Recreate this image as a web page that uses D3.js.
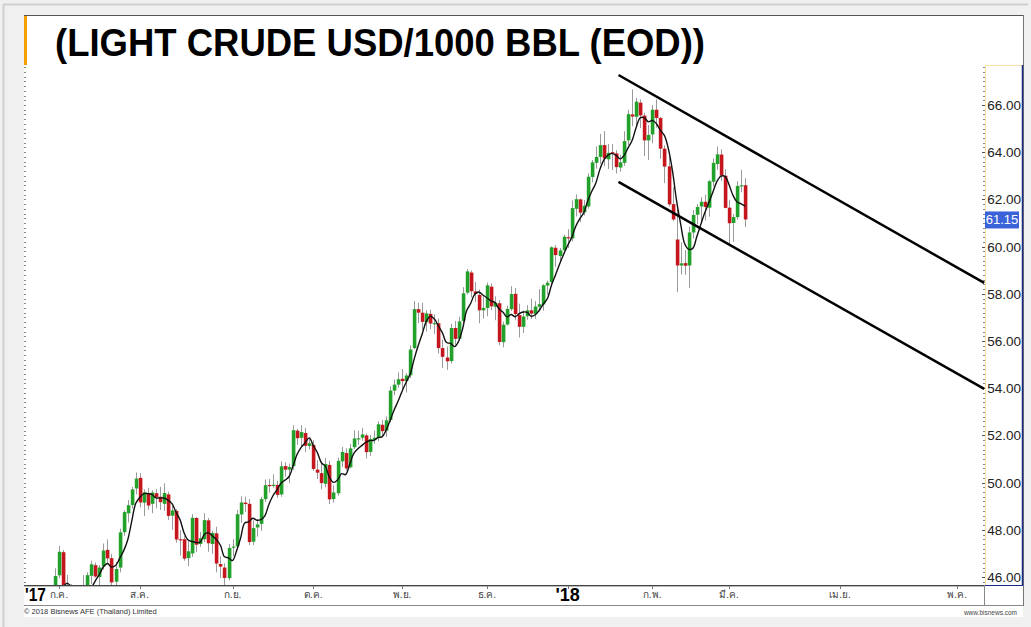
<!DOCTYPE html>
<html lang="th">
<head>
<meta charset="utf-8">
<title>LIGHT CRUDE USD/1000 BBL (EOD)</title>
<script src="https://cdn.jsdelivr.net/npm/d3@7"></script>
<style>
body{margin:0;background:#f0f0f0;}
svg{display:block;font-family:"Liberation Sans",Arial,sans-serif;}
</style>
</head>
<body>
<script>

// daily bars, Jun 26 2017 .. Mar 7 2018
var dates = [
 "2017-06-26","2017-06-27","2017-06-28","2017-06-29","2017-06-30",
 "2017-07-03","2017-07-05","2017-07-06","2017-07-07","2017-07-10","2017-07-11","2017-07-12","2017-07-13","2017-07-14","2017-07-17",
 "2017-07-18","2017-07-19","2017-07-20","2017-07-21","2017-07-24","2017-07-25","2017-07-26","2017-07-27","2017-07-28","2017-07-31",
 "2017-08-01","2017-08-02","2017-08-03","2017-08-04","2017-08-07","2017-08-08","2017-08-09","2017-08-10","2017-08-11","2017-08-14",
 "2017-08-15","2017-08-16","2017-08-17","2017-08-18","2017-08-21","2017-08-22","2017-08-23","2017-08-24","2017-08-25","2017-08-28",
 "2017-08-29","2017-08-30","2017-08-31",
 "2017-09-01","2017-09-05","2017-09-06","2017-09-07","2017-09-08","2017-09-11","2017-09-12","2017-09-13","2017-09-14","2017-09-15",
 "2017-09-18","2017-09-19","2017-09-20","2017-09-21","2017-09-22","2017-09-25","2017-09-26","2017-09-27","2017-09-28","2017-09-29",
 "2017-10-02","2017-10-03","2017-10-04","2017-10-05","2017-10-06","2017-10-09","2017-10-10","2017-10-11","2017-10-12","2017-10-13",
 "2017-10-16","2017-10-17","2017-10-18","2017-10-19","2017-10-20","2017-10-23","2017-10-24","2017-10-25","2017-10-26","2017-10-27",
 "2017-10-30","2017-10-31",
 "2017-11-01","2017-11-02","2017-11-03","2017-11-06","2017-11-07","2017-11-08","2017-11-09","2017-11-10","2017-11-13","2017-11-14",
 "2017-11-15","2017-11-16","2017-11-17","2017-11-20","2017-11-21","2017-11-22","2017-11-24","2017-11-27","2017-11-28","2017-11-29",
 "2017-11-30",
 "2017-12-01","2017-12-04","2017-12-05","2017-12-06","2017-12-07","2017-12-08","2017-12-11","2017-12-12","2017-12-13","2017-12-14",
 "2017-12-15","2017-12-18","2017-12-19","2017-12-20","2017-12-21","2017-12-22","2017-12-26","2017-12-27","2017-12-28","2017-12-29",
 "2018-01-02","2018-01-03","2018-01-04","2018-01-05","2018-01-08","2018-01-09","2018-01-10","2018-01-11","2018-01-12","2018-01-16",
 "2018-01-17","2018-01-18","2018-01-19","2018-01-22","2018-01-23","2018-01-24","2018-01-25","2018-01-26","2018-01-29","2018-01-30",
 "2018-01-31",
 "2018-02-01","2018-02-02","2018-02-05","2018-02-06","2018-02-07","2018-02-08","2018-02-09","2018-02-12","2018-02-13","2018-02-14",
 "2018-02-15","2018-02-16","2018-02-20","2018-02-21","2018-02-22","2018-02-23","2018-02-26","2018-02-27","2018-02-28",
 "2018-03-01","2018-03-02","2018-03-05","2018-03-06","2018-03-07"
];

var opens = [
 43.11,43.40,44.30,44.70,44.90,
 46.07,47.05,45.15,45.50,44.25,44.45,45.10,45.55,46.05,46.50,46.00,46.45,47.15,46.80,45.80,46.40,47.90,48.70,49.05,49.75,
 50.20,49.15,49.55,49.10,49.55,49.40,49.10,49.50,48.60,48.80,47.60,47.60,46.80,47.00,48.50,47.40,47.60,48.40,47.40,47.85,46.55,46.40,45.95,
 47.25,47.30,48.65,49.15,49.10,47.50,48.10,48.25,49.30,49.90,49.90,49.90,49.50,50.70,50.55,50.70,52.20,51.90,52.10,51.55,
 51.60,50.55,50.40,49.95,50.75,49.30,49.55,50.90,51.25,50.65,51.50,51.85,51.90,52.00,51.30,51.80,51.90,52.45,52.20,52.65,53.90,54.15,
 54.40,54.30,54.55,55.70,57.35,57.20,56.80,57.15,56.75,56.75,55.70,55.30,55.15,56.55,56.10,56.85,58.05,58.90,58.10,57.95,57.30,
 57.40,58.30,57.45,57.60,55.95,56.70,57.35,58.00,57.10,56.60,57.05,57.30,57.15,57.45,57.55,58.35,58.50,59.95,59.60,59.85,
 60.40,60.35,61.60,62.00,61.45,61.70,62.95,63.55,63.80,64.30,63.70,64.00,63.95,63.35,63.55,64.50,65.60,65.50,66.10,65.55,64.50,
 64.75,65.80,65.45,64.15,63.40,61.80,60.30,59.20,59.30,59.20,60.60,61.35,61.70,61.90,61.65,62.75,63.50,63.90,63.00,
 61.65,61.00,61.25,62.55,62.60
];

var highs = [
 43.78,44.40,44.82,45.37,46.37,
 47.32,47.15,46.09,45.70,44.89,45.40,46.08,46.20,46.69,46.61,46.50,47.42,47.59,46.98,46.64,48.05,48.83,49.26,49.81,50.43,
 50.40,49.71,49.78,49.67,49.72,49.82,49.97,49.61,49.02,48.88,47.98,47.73,47.52,48.66,48.55,47.91,48.71,48.50,47.96,48.13,46.87,46.58,47.40,
 47.60,48.84,49.42,49.40,49.30,48.40,48.45,49.40,50.13,50.15,50.35,50.08,50.90,50.86,50.80,52.43,52.27,52.43,52.32,51.91,
 51.80,50.95,50.82,51.05,50.92,49.88,51.06,51.51,51.45,51.64,52.22,52.20,52.32,52.08,52.02,52.20,52.60,52.65,52.80,54.08,54.37,54.67,
 54.82,54.64,55.82,57.69,57.63,57.62,57.30,57.33,57.13,56.95,56.06,55.77,56.72,56.85,57.03,58.28,59.05,58.99,58.50,58.18,57.89,
 58.48,58.44,57.89,57.73,56.82,57.50,58.32,58.25,57.58,57.29,57.52,57.79,57.69,58.20,58.41,58.56,60.01,60.06,59.94,60.51,
 60.74,61.95,62.21,62.04,61.97,63.10,63.67,64.25,64.77,64.89,64.35,64.34,64.08,63.89,64.89,65.80,66.66,66.30,66.24,65.67,65.15,
 66.00,66.24,65.49,64.29,63.80,62.52,61.59,60.18,59.85,60.84,61.55,61.80,62.10,62.20,62.82,63.73,64.24,64.12,63.28,
 61.98,61.38,62.77,63.25,62.90
];

var lows = [
 42.98,43.22,43.95,44.48,44.84,
 45.95,45.05,44.95,44.00,44.20,44.25,45.05,45.10,45.70,45.97,45.40,46.31,46.60,45.40,45.55,46.20,47.75,48.31,48.90,49.50,
 48.95,48.59,48.85,48.70,48.91,48.84,48.80,48.41,48.00,47.45,46.91,46.69,46.46,46.85,47.05,47.28,47.48,47.07,46.98,46.20,45.96,45.58,45.85,
 46.88,47.20,48.30,48.75,47.35,47.35,47.71,47.95,49.18,49.57,49.78,49.36,49.40,50.25,49.98,50.55,51.60,51.50,51.29,51.40,
 50.50,50.15,49.72,49.80,49.09,49.15,49.45,50.66,50.51,50.60,51.42,51.60,51.77,51.02,51.12,51.65,51.76,51.97,51.94,52.55,53.70,54.02,
 53.88,53.82,54.43,55.65,56.76,56.46,56.40,56.50,56.30,55.47,54.85,54.78,55.05,55.84,56.03,56.76,57.97,57.85,57.65,56.75,56.95,
 57.05,57.31,56.88,55.82,55.73,56.65,57.28,56.88,56.15,56.34,56.90,56.93,56.94,57.25,57.29,57.96,58.38,59.14,59.36,59.79,
 59.94,60.22,61.28,61.04,61.32,61.61,62.73,63.30,63.51,63.41,63.29,63.25,63.10,63.17,63.42,64.30,65.10,65.15,65.02,63.84,63.67,
 64.38,65.04,63.72,62.69,61.70,61.09,58.07,58.82,58.80,58.25,60.35,60.95,61.00,61.10,61.27,62.55,63.26,62.79,61.62,
 60.06,60.20,61.15,62.30,60.83
];

var closes = [
 43.38,44.24,44.74,44.93,46.04,
 47.07,45.13,45.52,44.23,44.40,45.04,45.49,46.08,46.54,46.02,46.40,47.12,46.79,45.77,46.34,47.89,48.75,49.04,49.71,50.17,
 49.16,49.59,49.03,49.58,49.39,49.17,49.56,48.59,48.82,47.59,47.55,46.78,47.09,48.51,47.37,47.64,48.41,47.43,47.87,46.57,46.44,45.96,47.23,
 47.29,48.66,49.16,49.09,47.48,48.07,48.23,49.30,49.89,49.89,49.91,49.48,50.69,50.55,50.66,52.22,51.88,52.14,51.56,51.67,
 50.58,50.42,49.98,50.79,49.29,49.58,50.92,51.30,50.60,51.45,51.87,51.88,52.04,51.29,51.84,51.90,52.47,52.18,52.64,53.90,54.15,54.38,
 54.30,54.54,55.64,57.35,57.20,56.81,57.17,56.74,56.76,55.70,55.33,55.14,56.55,56.09,56.83,58.02,58.95,58.11,57.99,57.30,57.40,
 58.36,57.47,57.62,55.96,56.69,57.36,57.99,57.14,56.60,57.04,57.30,57.16,57.46,57.56,58.36,58.47,59.97,59.64,59.84,60.42,
 60.37,61.63,62.01,61.44,61.73,62.96,63.57,63.80,64.30,63.73,63.97,63.95,63.37,63.57,64.47,65.61,65.51,66.14,65.56,64.50,64.73,
 65.80,65.45,64.15,63.39,61.79,61.15,59.20,59.29,59.19,60.60,61.34,61.68,61.90,61.68,62.77,63.55,63.91,63.01,61.64,
 60.99,61.25,62.57,62.60,61.15
];

// x axis: months (first trading day), future months placed where the vendor puts them
var monthKeys   = ["2017-07","2017-08","2017-09","2017-10","2017-11","2017-12","2018-01","2018-02","2018-03"];
var monthLabels = ["ก.ค.","ส.ค.","ก.ย.","ต.ค.","พ.ย.","ธ.ค.","'18","ก.พ.","มี.ค."];
var futureLabels = ["เม.ย.","พ.ค."];
var futureSlots  = [193.5, 222.5];
var yearStartLabel = "'17";

var yTicks = [46,48,50,52,54,56,58,60,62,64,66];
var lastPrice = 61.15;

// hand drawn channel (slot, price)
var channelUpper = [[138.6, 67.27],[229.2, 58.46]];
var channelLower = [[138.6, 62.74],[229.2, 53.97]];

var maPeriod = 5;

var w = 1031, h = 627;
var plotL = 25, plotR = 985, plotT = 65, plotB = 585;
var firstSlot = dates.indexOf("2017-07-03");

var bars = dates.map(function(d, k){
  return {i: k - firstSlot, o: opens[k], h: highs[k], l: lows[k], c: closes[k]};
});

var ma = [];
for (var k = maPeriod - 1; k < closes.length; k++) {
  ma.push({i: k - firstSlot, v: d3.mean(closes.slice(k - maPeriod + 1, k + 1))});
}

var x = d3.scaleLinear().domain([-8.42, 229.4]).range([plotL, plotR]);
var y = d3.scaleLinear().domain([46, 66]).range([577, 105]);

var svg = d3.select("body").append("svg").attr("width", w).attr("height", h);

// outer frame
svg.append("rect").attr("width", w).attr("height", h).attr("fill", "#f0f0f0");
svg.append("line").attr("x1", 3).attr("x2", 1028).attr("y1", 4.5).attr("y2", 4.5).attr("stroke", "#cfcfcf").attr("stroke-width", 2);
svg.append("line").attr("x1", 3.5).attr("x2", 3.5).attr("y1", 4).attr("y2", 627).attr("stroke", "#cfcfcf").attr("stroke-width", 2);
svg.append("rect").attr("x", 24).attr("y", 15).attr("width", 999).attr("height", 602).attr("fill", "#fff");
svg.append("line").attr("x1", 24).attr("x2", 1023.5).attr("y1", 15.5).attr("y2", 15.5).attr("stroke", "#555");
svg.append("line").attr("x1", 1023.5).attr("x2", 1023.5).attr("y1", 15).attr("y2", 606).attr("stroke", "#777");
svg.append("rect").attr("x", 24).attr("y", 16).attr("width", 3).attr("height", 49).attr("fill", "#f5a000");

// title
svg.append("text").attr("x", 55).attr("y", 56)
  .attr("font-size", 39).attr("font-weight", "bold").attr("fill", "#000")
  .attr("textLength", 650).attr("lengthAdjust", "spacingAndGlyphs")
  .text("(LIGHT CRUDE USD/1000 BBL (EOD))");

// price axis box
svg.append("rect").attr("x", 985).attr("y", 65).attr("width", 38).attr("height", 520).attr("fill", "#fff");
svg.append("line").attr("x1", 985.5).attr("x2", 985.5).attr("y1", 65).attr("y2", 585).attr("stroke", "#fbe3a8");
svg.append("line").attr("x1", 985).attr("x2", 1023).attr("y1", 65.5).attr("y2", 65.5).attr("stroke", "#fbe3a8");
svg.append("line").attr("x1", 1022.5).attr("x2", 1022.5).attr("y1", 65).attr("y2", 586).attr("stroke", "#1a2a80").attr("stroke-width", 1.5);
svg.append("line").attr("x1", 985).attr("x2", 1023).attr("y1", 585.5).attr("y2", 585.5).attr("stroke", "#1a2a80");

// minor ticks, both sides
var minor = d3.range(45.8, 67.7, 0.2);
svg.append("g").selectAll("line").data(minor).join("line")
  .attr("x1", 983).attr("x2", 985).attr("y1", function(d){ return Math.round(y(d)) + 0.5; }).attr("y2", function(d){ return Math.round(y(d)) + 0.5; })
  .attr("stroke", "#888");
svg.append("g").selectAll("line").data(minor).join("line")
  .attr("x1", 24).attr("x2", 26).attr("y1", function(d){ return Math.round(y(d)) + 0.5; }).attr("y2", function(d){ return Math.round(y(d)) + 0.5; })
  .attr("stroke", "#888");
svg.append("g").selectAll("line").data(yTicks).join("line")
  .attr("x1", 982).attr("x2", 985).attr("y1", function(d){ return Math.round(y(d)) + 0.5; }).attr("y2", function(d){ return Math.round(y(d)) + 0.5; })
  .attr("stroke", "#555");

svg.append("g").selectAll("text").data(yTicks).join("text")
  .attr("x", 1021).attr("y", function(d){ return y(d) + 5; })
  .attr("text-anchor", "end").attr("font-size", 13.5).attr("fill", "#222")
  .text(function(d){ return d.toFixed(2); });

// last price tag
svg.append("rect").attr("x", 985).attr("y", y(lastPrice) - 8).attr("width", 34).attr("height", 17).attr("fill", "#3b63d9");
svg.append("text").attr("x", 1002).attr("y", y(lastPrice) + 5).attr("text-anchor", "middle")
  .attr("font-size", 13).attr("fill", "#fff").text(lastPrice.toFixed(2));

// plot
svg.append("clipPath").attr("id", "plot").append("rect")
  .attr("x", plotL).attr("y", plotT).attr("width", plotR - plotL).attr("height", plotB - plotT);
var plot = svg.append("g").attr("clip-path", "url(#plot)");

plot.append("g").selectAll("line").data(bars).join("line")
  .attr("x1", function(d){ return Math.round(x(d.i)) + 0.5; })
  .attr("x2", function(d){ return Math.round(x(d.i)) + 0.5; })
  .attr("y1", function(d){ return y(d.h); }).attr("y2", function(d){ return y(d.l); })
  .attr("stroke", "#9a9a9a").attr("stroke-width", 1);

plot.append("g").selectAll("rect").data(bars).join("rect")
  .attr("x", function(d){ return Math.round(x(d.i)) - 1.2; })
  .attr("width", 3.6)
  .attr("y", function(d){ return y(Math.max(d.o, d.c)); })
  .attr("height", function(d){ return Math.max(1.2, Math.abs(y(d.o) - y(d.c))); })
  .attr("fill", function(d){ return d.c >= d.o ? "#22a12a" : "#c4161c"; });

plot.append("path").datum(ma)
  .attr("d", d3.line().x(function(d){ return x(d.i); }).y(function(d){ return y(d.v); }).curve(d3.curveCatmullRom))
  .attr("fill", "none").attr("stroke", "#111").attr("stroke-width", 1.4);

[channelUpper, channelLower].forEach(function(seg){
  plot.append("line")
    .attr("x1", x(seg[0][0])).attr("y1", y(seg[0][1]))
    .attr("x2", x(seg[1][0])).attr("y2", y(seg[1][1]))
    .attr("stroke", "#000").attr("stroke-width", 2.5);
});

// time axis strip
svg.append("line").attr("x1", 24).attr("x2", 985).attr("y1", 585.5).attr("y2", 585.5).attr("stroke", "#444");
svg.append("line").attr("x1", 24).attr("x2", 985).attr("y1", 586.5).attr("y2", 586.5).attr("stroke", "#bbb");
svg.append("line").attr("x1", 24).attr("x2", 1023).attr("y1", 605.5).attr("y2", 605.5).attr("stroke", "#888");
svg.append("line").attr("x1", 984.5).attr("x2", 984.5).attr("y1", 585).attr("y2", 606).attr("stroke", "#888");

var ticks = monthKeys.map(function(m, j){
  var k = dates.findIndex(function(d){ return d.indexOf(m) === 0; });
  return {slot: k - firstSlot, label: monthLabels[j]};
}).concat(futureLabels.map(function(l, j){ return {slot: futureSlots[j], label: l}; }));

svg.append("g").selectAll("line").data(ticks).join("line")
  .attr("x1", function(d){ return Math.round(x(d.slot)) + 0.5; })
  .attr("x2", function(d){ return Math.round(x(d.slot)) + 0.5; })
  .attr("y1", 586).attr("y2", 589).attr("stroke", "#777");

function isYear(d){ return d.label.charAt(0) === "'"; }

svg.append("g").selectAll("text").data(ticks).join("text")
  .attr("x", function(d){ return x(d.slot); })
  .attr("y", function(d){ return isYear(d) ? 601 : 598; })
  .attr("text-anchor", "middle")
  .attr("font-size", function(d){ return isYear(d) ? 18 : 10; })
  .attr("font-weight", function(d){ return isYear(d) ? "bold" : "normal"; })
  .attr("fill", function(d){ return isYear(d) ? "#000" : "#444"; })
  .text(function(d){ return d.label; });

svg.append("text").attr("x", 25).attr("y", 601).attr("font-size", 18).attr("font-weight", "bold")
  .attr("textLength", 21).attr("lengthAdjust", "spacingAndGlyphs")
  .attr("fill", "#000").text(yearStartLabel);

// footer
svg.append("text").attr("x", 24).attr("y", 614).attr("font-size", 7.5).attr("fill", "#333")
  .text("© 2018 Bisnews AFE (Thailand) Limited");
svg.append("text").attr("x", 1017).attr("y", 615).attr("text-anchor", "end").attr("font-size", 6.5).attr("fill", "#444")
  .text("www.bisnews.com");

</script>
</body>
</html>
